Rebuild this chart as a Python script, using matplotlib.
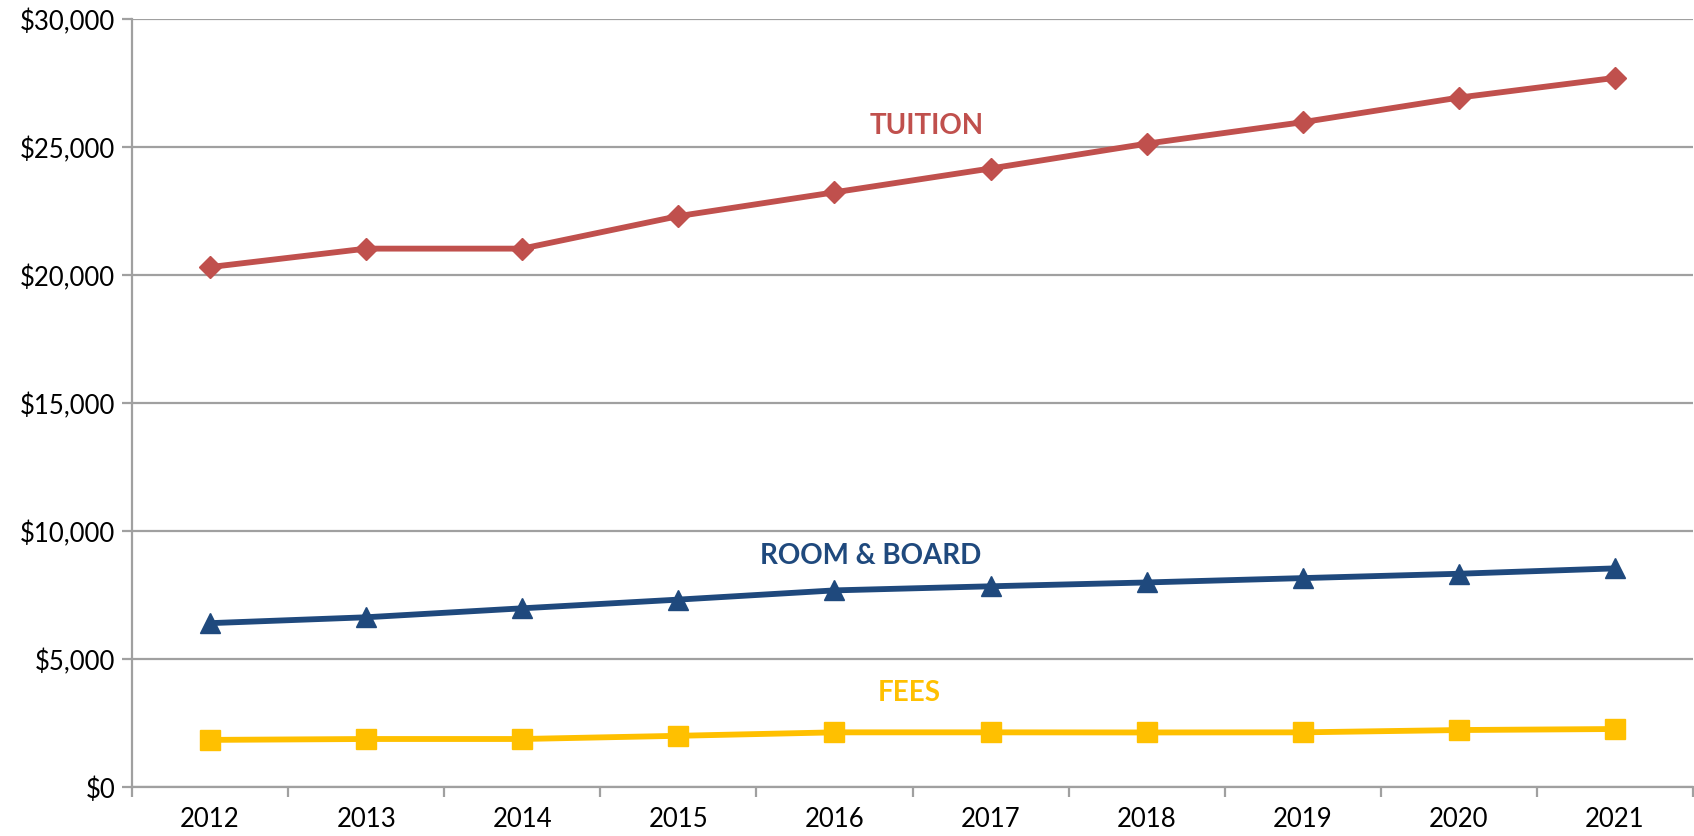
import matplotlib
matplotlib.use("Agg")
import matplotlib.pyplot as plt
from matplotlib.ticker import FuncFormatter, FixedLocator

years = ["2012", "2013", "2014", "2015", "2016", "2017", "2018", "2019", "2020", "2021"]
tuition = [20310, 21030, 21030, 22300, 23230, 24160, 25130, 25970, 26930, 27700]
room_board = [6400, 6630, 6980, 7320, 7680, 7840, 7990, 8160, 8330, 8540]
fees = [1840, 1875, 1875, 2000, 2135, 2135, 2130, 2135, 2225, 2265]

c_tuition = "#C0504D"
c_room = "#1F497D"
c_fees = "#FFC000"
grid_c = "#A0A0A0"

plt.rcParams['font.family'] = ['Lato', 'DejaVu Sans']

fig = plt.figure(figsize=(16.94, 8.37), dpi=100)
ax = fig.add_axes([132/1694, 1 - 788/837, (1693-132)/1694, (788-20)/837])

x = list(range(len(years)))
ax.plot(x, tuition, color=c_tuition, lw=4.2, marker='D', ms=11, zorder=3)
ax.plot(x, room_board, color=c_room, lw=4.2, marker='^', ms=14, zorder=3)
ax.plot(x, fees, color=c_fees, lw=4.2, marker='s', ms=15, zorder=3)

ax.set_xlim(-0.5, len(years) - 0.5)
ax.set_ylim(0, 30000)
ax.set_yticks(range(0, 30001, 5000))
ax.yaxis.set_major_formatter(FuncFormatter(lambda v, p: "${:,.0f}".format(v)))
ax.grid(axis='y', color=grid_c, lw=1.6, zorder=0)
ax.set_axisbelow(True)

ax.set_xticks(x)
ax.set_xticklabels(years)
ax.xaxis.set_minor_locator(FixedLocator([i - 0.5 for i in range(len(years) + 1)]))
ax.tick_params(axis='x', which='major', length=0, pad=14, labelsize=18.5)
ax.tick_params(axis='x', which='minor', length=7, width=1.6, color=grid_c)
ax.tick_params(axis='y', length=7, width=1.6, color=grid_c, labelsize=18.5, pad=5)

for s in ['top', 'right']:
    ax.spines[s].set_visible(False)
for s in ['left', 'bottom']:
    ax.spines[s].set_color(grid_c)
    ax.spines[s].set_linewidth(1.6)

ax.text(4.59, 25860, "TUITION", color=c_tuition, fontsize=20, fontweight='bold',
        ha='center', va='center')
ax.text(4.23, 9060, "ROOM & BOARD", color=c_room, fontsize=20, fontweight='bold',
        ha='center', va='center')
ax.text(4.48, 3710, "FEES", color=c_fees, fontsize=20, fontweight='bold',
        ha='center', va='center')

fig.savefig("out.png", dpi=100)
